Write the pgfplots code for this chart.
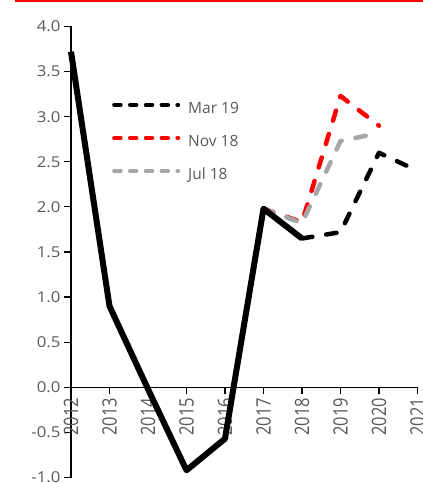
\documentclass[border=0pt]{standalone}
\usepackage{pgfplots}
\pgfplotsset{compat=1.18}
\usepackage{fontspec}
\setmainfont{Open Sans}
\usepackage{graphicx}
\definecolor{txt}{RGB}{89,89,89}
\definecolor{grayl}{RGB}{166,166,166}
\definecolor{redl}{RGB}{255,0,0}
\newcommand\yl[1]{\scalebox{1.12}[1]{#1}}
\newcommand\xl[1]{\scalebox{1}[1.2]{#1}}
\begin{document}
\begin{tikzpicture}[x=1bp,y=1bp]
\begin{axis}[
  at={(0,0)}, anchor=south west,
  scale only axis, width=346.5bp, height=451bp,
  xmin=2012, xmax=2021, ymin=-1, ymax=4,
  axis x line*=middle, axis y line*=left,
  hide obscured x ticks=false,
  axis line style={-, line width=1.2bp, black},
  xtick={2012,2013,2014,2015,2016,2017,2018,2019,2020,2021},
  xticklabels={\xl{2012},\xl{2013},\xl{2014},\xl{2015},\xl{2016},\xl{2017},\xl{2018},\xl{2019},\xl{2020},\xl{2021}},
  ytick={-1,-0.5,0,0.5,1,1.5,2,2.5,3,3.5,4},
  yticklabels={\yl{-1.0},\yl{-0.5},\yl{0.0},\yl{0.5},\yl{1.0},\yl{1.5},\yl{2.0},\yl{2.5},\yl{3.0},\yl{3.5},\yl{4.0}},
  tick align=outside, major tick length=7bp,
  tick style={black, line width=1.2bp},
  xticklabel style={rotate=90, anchor=east, font=\fontsize{16.5bp}{19bp}\selectfont, text=txt},
  yticklabel style={font=\fontsize{15bp}{18bp}\selectfont, text=txt},
  clip=false,
  legend style={draw=none, fill=none, at={(0.1183,0.832)}, anchor=north west,
    inner sep=0pt, row sep=19bp, column sep=8bp, font=\fontsize{15.5bp}{18bp}\selectfont, text=txt,
    nodes={inner sep=0pt, text height=11bp, text depth=3bp}},
  legend cell align=left,
  legend image code/.code={\path[draw=none,fill=none] (0bp,0bp) rectangle (68bp,1bp);
    \draw[#1, dash pattern=on 6.5bp off 9.3bp] (2bp,4.5bp) -- (66bp,4.5bp);},
]
\addplot[forget plot, redl, line width=4.5bp, dash pattern=on 10.5bp off 14bp, line cap=round, line join=round]
  coordinates {(2017,1.98)(2018,1.83)(2019,3.23)(2020,2.9)};
\addplot[forget plot, grayl, line width=4.5bp, dash pattern=on 10.5bp off 14bp, line cap=round, line join=round]
  coordinates {(2017,1.98)(2018,1.82)(2019,2.73)(2020,2.82)};
\addplot[forget plot, black, line width=4.5bp, dash pattern=on 10.5bp off 14bp, line cap=round, line join=round]
  coordinates {(2018,1.65)(2019,1.72)(2020,2.6)(2021,2.4)};
\addplot[forget plot, black, line width=6bp, line join=round]
  coordinates {(2012,3.72)(2013,0.9)(2014,-0.02)(2015,-0.92)(2016,-0.57)(2017,1.98)(2018,1.65)};
\addlegendimage{black, line width=4bp, line cap=round}
\addlegendentry{Mar 19}
\addlegendimage{redl, line width=4bp, line cap=round}
\addlegendentry{Nov 18}
\addlegendimage{grayl, line width=4bp, line cap=round}
\addlegendentry{Jul 18}
\coordinate (O) at (rel axis cs:0,0);
\end{axis}
\pgfresetboundingbox
\useasboundingbox ([shift={(-71bp,-5.5bp)}]O) rectangle ([shift={(352bp,477.5bp)}]O);
\fill[redl] ([shift={(-56bp,475.2bp)}]O) rectangle ([shift={(352bp,477.5bp)}]O);
\end{tikzpicture}
\end{document}
